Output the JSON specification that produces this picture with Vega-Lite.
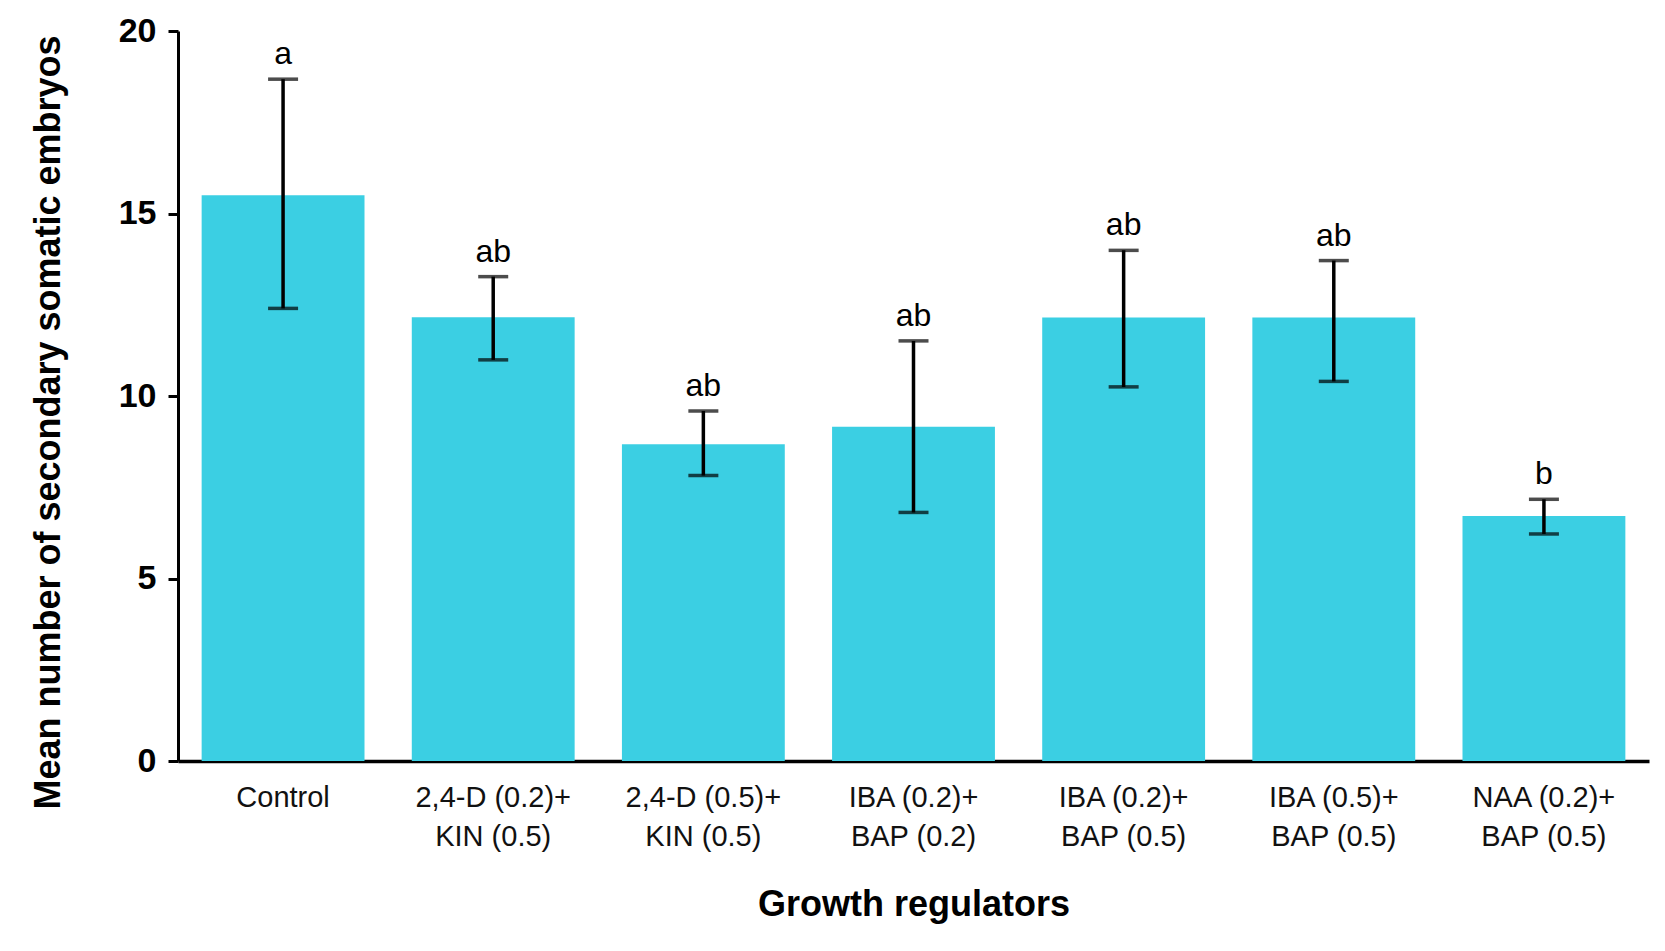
{
  "$schema": "https://vega.github.io/schema/vega-lite/v6.json",
  "autosize": {"type": "none"},
  "padding": {"left": 178, "top": 31, "right": 16, "bottom": 190},
  "width": 1471,
  "height": 730,
  "background": "white",
  "config": {"view": {"stroke": null}},
  "data": {"values": [
    {"group": "Control", "mean": 15.5, "low": 12.4, "high": 18.68, "letter": "a"},
    {"group": "2,4-D (0.2)+ KIN (0.5)", "mean": 12.16, "low": 10.99, "high": 13.27, "letter": "ab"},
    {"group": "2,4-D (0.5)+ KIN (0.5)", "mean": 8.68, "low": 7.82, "high": 9.59, "letter": "ab"},
    {"group": "IBA (0.2)+ BAP (0.2)", "mean": 9.16, "low": 6.81, "high": 11.51, "letter": "ab"},
    {"group": "IBA (0.2)+ BAP (0.5)", "mean": 12.15, "low": 10.25, "high": 13.99, "letter": "ab"},
    {"group": "IBA (0.5)+ BAP (0.5)", "mean": 12.15, "low": 10.4, "high": 13.71, "letter": "ab"},
    {"group": "NAA (0.2)+ BAP (0.5)", "mean": 6.71, "low": 6.22, "high": 7.17, "letter": "b"}
  ]},
  "encoding": {
    "x": {
      "field": "group", "type": "nominal", "sort": null,
      "scale": {"paddingInner": 0.225, "paddingOuter": 0.1125},
      "axis": {
        "title": "Growth regulators",
        "titleFont": "Liberation Sans", "titleFontSize": 36, "titleFontWeight": "bold", "titleColor": "#000",
        "titleY": 154, "titleBaseline": "alphabetic",
        "labelFont": "Liberation Sans", "labelFontSize": 29, "labelColor": "#111",
        "labelAngle": 0, "labelPadding": 22, "labelLineHeight": 39,
        "labelExpr": "indexof(datum.label, '+ ') > 0 ? [slice(datum.label, 0, indexof(datum.label, '+ ') + 1), slice(datum.label, indexof(datum.label, '+ ') + 2)] : datum.label",
        "ticks": false, "tickSize": 0,
        "domainColor": "#000", "domainWidth": 3.5
      }
    }
  },
  "layer": [
    {
      "mark": {"type": "bar", "color": "#3BCFE3"},
      "encoding": {
        "y": {
          "field": "mean", "type": "quantitative",
          "scale": {"domain": [0, 20], "nice": false},
          "axis": {
            "title": "Mean number of secondary somatic embryos",
            "titleFont": "Liberation Sans", "titleFontSize": 36, "titleFontWeight": "bold", "titleColor": "#000",
            "titleAngle": -90, "titleX": -119, "titleY": 391, "titleAlign": "center", "titleBaseline": "alphabetic",
            "values": [0, 5, 10, 15, 20],
            "labelFont": "Liberation Sans", "labelFontSize": 34, "labelFontWeight": "bold", "labelColor": "#000",
            "labelPadding": 12, "tickSize": 10, "tickWidth": 3, "tickColor": "#000",
            "domainColor": "#000", "domainWidth": 3, "grid": false
          }
        }
      }
    },
    {
      "mark": {"type": "rule", "color": "#000", "strokeWidth": 3.5},
      "encoding": {
        "y": {"field": "low", "type": "quantitative"},
        "y2": {"field": "high"}
      }
    },
    {
      "mark": {"type": "tick", "color": "#000", "thickness": 3.5, "size": 30, "orient": "horizontal"},
      "encoding": {"y": {"field": "high", "type": "quantitative"}}
    },
    {
      "mark": {"type": "tick", "color": "#000", "thickness": 3.5, "size": 30, "orient": "horizontal"},
      "encoding": {"y": {"field": "low", "type": "quantitative"}}
    },
    {
      "mark": {"type": "text", "font": "Liberation Sans", "fontSize": 32, "color": "#000", "baseline": "alphabetic", "dy": -15},
      "encoding": {
        "y": {"field": "high", "type": "quantitative"},
        "text": {"field": "letter"}
      }
    }
  ]
}
